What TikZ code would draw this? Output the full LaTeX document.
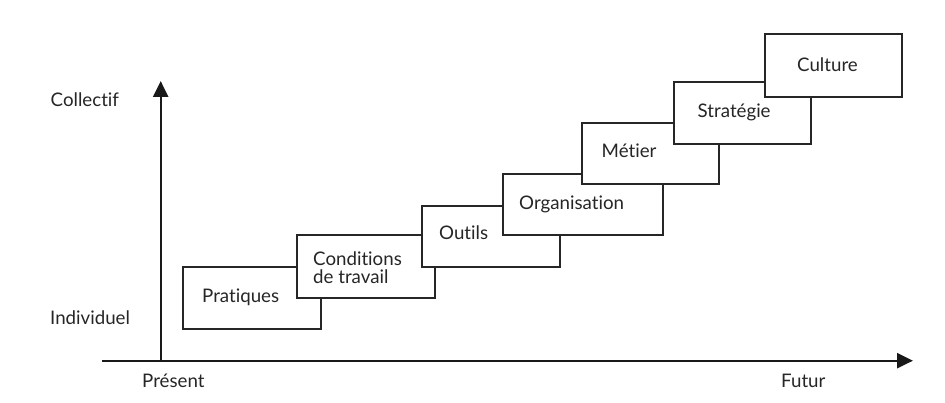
\documentclass[tikz,border=0pt]{standalone}
\usepackage{fontspec}
\setmainfont{Lato}[Ligatures=NoCommon]
\usetikzlibrary{arrows.meta}
\begin{document}
\begin{tikzpicture}[x=1pt,y=-1pt,
  stepbox/.style={draw=black!85,line width=2.2pt,fill=white,inner sep=0pt},
  lbl/.style={font=\fontsize{18.7}{21}\selectfont,text=black!85,inner sep=0pt,anchor=west,align=left},
  axis/.style={draw=black!90,line width=2.4pt,-{Triangle[length=16pt,width=15pt]}}]
\useasboundingbox (0,0) rectangle (945,403);
% axes
\coordinate (xs) at (102,360.7);
\coordinate (xe) at (913,360.7);
\coordinate (ys) at (160.7,360.7);
\coordinate (ye) at (160.7,81);
\draw[axis] (xs) -- (xe);
\draw[axis] (ys) -- (ye);
% boxes (drawn in order, later ones on top)
\node[stepbox,minimum width=138pt,minimum height=62.3pt] (b1) at (251.7,297.9) {};
\node[lbl] (t1) at (202,297) {Pratiques};
\node[stepbox,minimum width=138pt,minimum height=62.7pt] (b2) at (365.7,266.7) {};
\node[lbl] (t2) at (313,267.5) {Conditions\\[-3pt]de travail};
\node[stepbox,minimum width=138pt,minimum height=61pt] (b3) at (491,236.2) {};
\node[lbl] (t3) at (439,233) {Outils};
\node[stepbox,minimum width=160pt,minimum height=61.3pt] (b4) at (582.7,204.7) {};
\node[lbl] (t4) at (519,204) {Organisation};
\node[stepbox,minimum width=137.5pt,minimum height=61pt] (b5) at (650.6,153.5) {};
\node[lbl] (t5) at (601.5,151) {Métier};
\node[stepbox,minimum width=137.6pt,minimum height=62.3pt] (b6) at (742.5,112.9) {};
\node[lbl] (t6) at (697.5,112) {Stratégie};
\node[stepbox,minimum width=137pt,minimum height=62.7pt] (b7) at (833.5,65.7) {};
\node[lbl] (t7) at (797,65) {Culture};
% axis labels
\node[lbl] (coll) at (50.5,100) {Collectif};
\node[lbl] (indiv) at (50,318) {Individuel};
\node[lbl] (pres) at (142,380.5) {Présent};
\node[lbl] (fut) at (781,380.5) {Futur};
\end{tikzpicture}
\end{document}
